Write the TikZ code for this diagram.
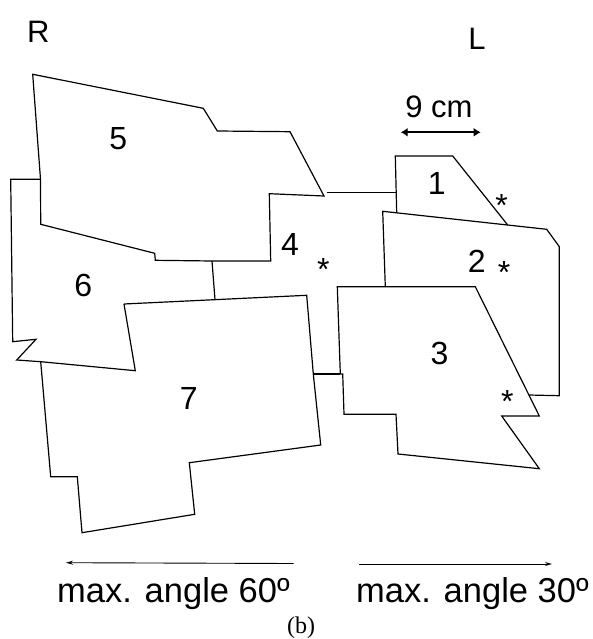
\documentclass[tikz,border=0pt]{standalone}
\usepackage{fontspec}
\setmainfont{Liberation Sans}
\newfontfamily\capserif{Liberation Serif}
\usetikzlibrary{arrows.meta}
\begin{document}
\begin{tikzpicture}[x=1pt,y=-1pt,
  outline/.style={line width=1.2pt, line join=miter},
  link/.style={line width=1.2pt},
  numlabel/.style={font=\fontsize{32}{32}\selectfont, inner sep=0pt, anchor=base},
  sidelabel/.style={font=\fontsize{31}{31}\selectfont, inner sep=0pt, anchor=base},
  starlabel/.style={font=\fontsize{32}{32}\selectfont, inner sep=0pt, anchor=base},
  anglelabel/.style={font=\fontsize{34.5}{34.5}\selectfont, inner sep=0pt, anchor=base west},
  thinarrow/.style={line width=0.9pt, -{Stealth[length=7pt,width=4pt]}},
  scalearrow/.style={line width=2pt, {Latex[length=7pt,width=9pt]}-{Latex[length=7pt,width=9pt]}}
]
\useasboundingbox (0,0) rectangle (593,639);

% polygon 5
\draw[outline] (32.7,74.3) -- (203.3,108.3) -- (217.3,131) -- (290,131.7) -- (324,196)
  -- (269.3,193.7) -- (270.7,261) -- (212,261) -- (155.3,260.3) -- (154.7,253.3)
  -- (40.7,224.3) -- (40.5,179.3) -- cycle;
% polygon 6
\draw[outline] (40.5,179.3) -- (10.7,179.3) -- (12.7,341.7) -- (36,339.3) -- (16.7,360)
  -- (40.7,361.7) -- (135.3,370.7) -- (124,304);
% polygon 7
\draw[outline] (124,304) -- (306.7,295.3) -- (313.3,374) -- (320.7,445) -- (189.3,462.7)
  -- (194.7,514.3) -- (82,532.7) -- (77.3,476.7) -- (50.7,476.7) -- (40.7,361.7);
% polygon 1 (visible part)
\draw[outline] (396.7,212.8) -- (395.3,156) -- (452.7,156) -- (507.7,225);
% polygon 2 (visible part)
\draw[outline] (385.3,286.7) -- (382.7,211.3) -- (546.7,229.3) -- (559.3,246.7)
  -- (559.3,395.7) -- (528.9,395);
% polygon 3
\draw[outline] (337.3,286.7) -- (475.3,286.7) -- (539.3,416) -- (501.7,416) -- (539.3,468.7)
  -- (398,454) -- (396,414.3) -- (344,414.3) -- (342.7,374) -- (340.3,374) -- cycle;

% connectors between pieces
\coordinate (c5a) at (326.7,192.7);
\coordinate (c1a) at (396.2,192.7);
\coordinate (c5b) at (212,261);
\coordinate (c7a) at (215,299.7);
\coordinate (c7b) at (313.3,374);
\coordinate (c3a) at (340.3,374);
\draw[link] (c5a) -- (c1a);
\draw[link] (c5b) -- (c7a);
\draw[link] (c7b) -- (c3a);

% numbers
\node[numlabel] (n5) at (118.3,149.8) {5};
\node[numlabel] (n4) at (290,255.5) {4};
\node[numlabel] (n6) at (83.3,296.2) {6};
\node[numlabel] (n7) at (188.7,409.5) {7};
\node[numlabel] (n1) at (436.7,194.5) {1};
\node[numlabel] (n2) at (476.7,272.2) {2};
\node[numlabel] (n3) at (439.5,364.5) {3};

% stars
\node[starlabel] (s4) at (323.3,280.8) {*};
\node[starlabel] (s1) at (501.7,216.8) {*};
\node[starlabel] (s2) at (504,283.5) {*};
\node[starlabel] (s3) at (507.3,412.2) {*};

% side labels
\node[sidelabel] (R) at (38.3,42.6) {R};
\node[sidelabel] (L) at (477,49.4) {L};

% scale
\node[sidelabel] (scale) at (439,118) {9 cm};
\coordinate (sa) at (400.7,132.3);
\coordinate (sb) at (480.7,132.3);
\draw[scalearrow] (sa) -- (sb);

% bottom arrows and captions
\coordinate (la) at (293.6,563.5);
\coordinate (lb) at (66,562.7);
\coordinate (ra) at (359,564);
\coordinate (rb) at (552,564);
\draw[thinarrow] (la) -- (lb);
\draw[thinarrow] (ra) -- (rb);
\node[anglelabel] (ang60) at (57,602.5) {max. angle 60º};
\node[anglelabel] (ang30) at (356,602.5) {max. angle 30º};
\node[font=\capserif\fontsize{24}{24}\selectfont, inner sep=0pt] (cap) at (301,628) {(b)};
\end{tikzpicture}
\end{document}
